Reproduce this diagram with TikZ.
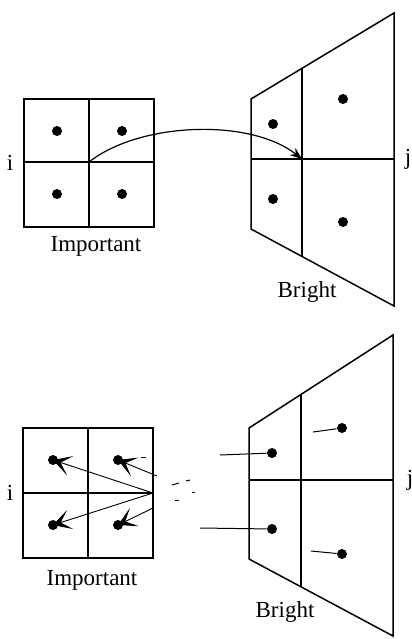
\documentclass[tikz,border=0pt]{standalone}
\usepackage{fontspec}
\setmainfont{Liberation Serif}
\usetikzlibrary{arrows.meta}
\begin{document}
\begin{tikzpicture}[x=0.5pt,y=-0.5pt,
  grid/.style={line width=0.75pt, black},
  dotn/.style={circle, fill=black, inner sep=0pt, minimum size=5pt},
  lbl/.style={font=\fontsize{11.5}{13}\selectfont, inner sep=0pt},
  conn/.style={line width=0.5pt},
  fletch/.style={line width=0.45pt, -{Stealth[length=9pt,width=10pt,inset=5pt]}},
  frag/.style={line width=0.5pt}]
\useasboundingbox (0,0) rectangle (412,639);

% ---------- top panel ----------
\draw[grid] (24,99) rectangle (154,227);
\draw[grid] (89,99) -- (89,227);
\draw[grid] (24,162) -- (154,162);
\coordinate (ca) at (89,162);
\node[dotn] (a1) at (57,131) {};
\node[dotn] (a2) at (122,131) {};
\node[dotn] (a3) at (57,194) {};
\node[dotn] (a4) at (122,194) {};
\node[lbl] (ia) at (10,163) {i};
\node[lbl] (impa) at (96,246) {Important};

\draw[grid] (251,99) -- (394,13) -- (394,306) -- (251,229) -- cycle;
\draw[grid] (302,68) -- (302,257);
\draw[grid] (251,159) -- (394,159);
\coordinate (cb) at (302,159);
\node[dotn] (b1) at (273,124) {};
\node[dotn] (b2) at (343,99) {};
\node[dotn] (b3) at (273,199) {};
\node[dotn] (b4) at (343,222) {};
\node[lbl] (ja) at (408,159) {j};
\node[lbl] (bra) at (307,292) {Bright};

\draw[line width=0.6pt, -{Stealth[length=6pt,width=4.5pt]}] (ca) .. controls (140,122) and (250,118) .. (cb);

% ---------- bottom panel ----------
\draw[grid] (23,428) rectangle (153,558);
\draw[grid] (88,428) -- (88,558);
\draw[grid] (23,493) -- (153,493);
\coordinate (cc) at (153,493);
\node[dotn] (c1) at (53,460) {};
\node[dotn] (c2) at (118,460) {};
\node[dotn] (c3) at (53,525) {};
\node[dotn] (c4) at (118,525) {};
\node[lbl] (ib) at (10,493) {i};
\node[lbl] (impb) at (92,580) {Important};

\draw[fletch] (cc) -- (c1.center);
\draw[fletch] (cc) -- (c3.center);
\draw[fletch] (157,476) -- (c2.center);
\draw[fletch] (153,508) -- (c4.center);

\draw[grid] (249,428) -- (393,335) -- (393,636) -- (249,559) -- cycle;
\draw[grid] (301,394) -- (301,587);
\draw[grid] (249,480) -- (393,480);
\node[dotn] (d1) at (272,453) {};
\node[dotn] (d2) at (342,428) {};
\node[dotn] (d3) at (272,529) {};
\node[dotn] (d4) at (342,554) {};
\node[lbl] (jb) at (410,480) {j};
\node[lbl] (brb) at (285,612) {Bright};

\coordinate (e1) at (220,455);
\coordinate (e2) at (200,528);
\coordinate (e3) at (313,432);
\coordinate (e4) at (311,551);
\draw[conn] (e1) -- (d1);
\draw[conn] (e2) -- (d3);
\draw[conn] (e3) -- (d2);
\draw[conn] (e4) -- (d4);

% faint fragments
\draw[frag] (141,457) -- (146,457);
\draw[frag] (172,485) -- (179,483);
\draw[frag] (186,481) -- (190,480);
\draw[frag] (192,492) -- (195,492);
\draw[frag] (175,500) -- (179,500);
\end{tikzpicture}
\end{document}
